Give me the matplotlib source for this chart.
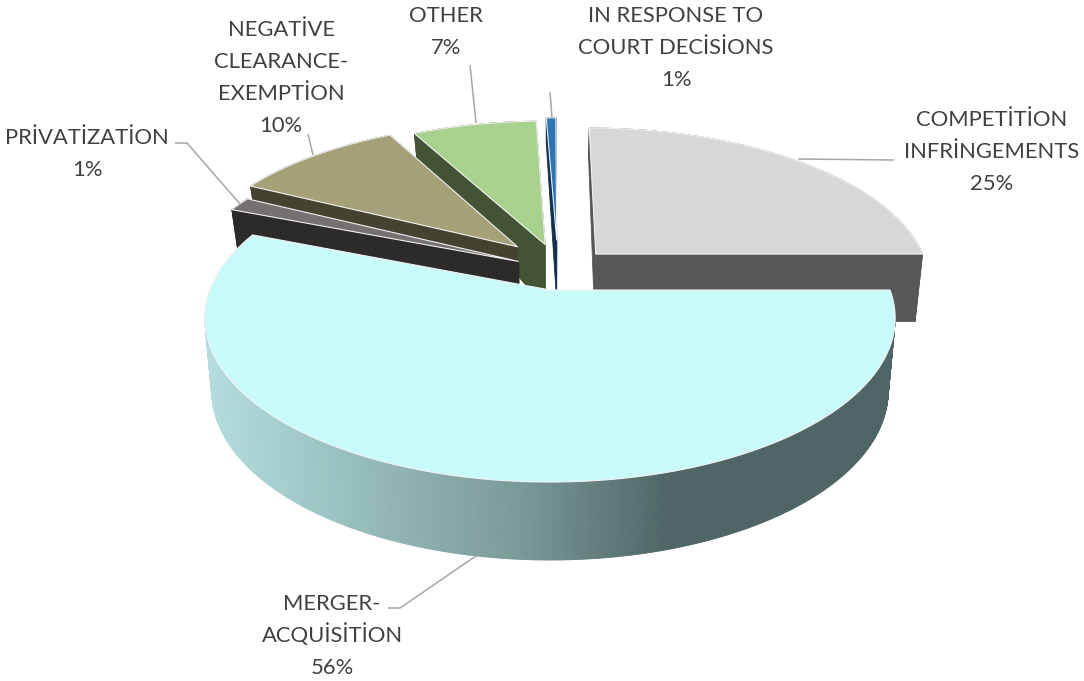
import numpy as np
import matplotlib
matplotlib.use('Agg')
import matplotlib.pyplot as plt
from matplotlib.colors import LinearSegmentedColormap
from matplotlib.patches import Polygon

# chart data (shares, small ones estimated)
categories = [['COMPETİTİON', 'INFRİNGEMENTS'], ['MERGER-', 'ACQUİSİTİON'], ['PRİVATİZATİON'],
              ['NEGATİVE', 'CLEARANCE-', 'EXEMPTİON'], ['OTHER'], ['IN RESPONSE TO', 'COURT DECİSİONS']]
shares = [25.0, 56.0, 1.45, 9.85, 7.15, 0.55]
percent_labels = ['25%', '56%', '1%', '10%', '7%', '1%']

top_colors = ['#D7D7D7', '#C9FAFA', '#767171', '#A5A077', '#A9D18E', '#2E75B6']
side_colors = ['#575757', None, '#2D2A2A', '#454330', '#435336', '#12304F']
# explosion of each slice in pie units
offsets = [(0.14, 0.235), (0, 0), (-0.095, 0.185), (-0.10, 0.285), (-0.015, 0.30), (0.021, 0.33)]
draw_order = [5, 4, 3, 2, 0, 1]

# first baseline of each label
label_pos = [(992, 126), (332, 610), (87, 144), (281, 36), (446, 22), (676, 22)]
LINE_STEP = 32
leaders = [[(798, 159), (894, 160)],
           [(388, 608), (400, 608), (476, 556)],
           [(175, 143), (187, 143), (240, 204)],
           [(308, 134), (313, 155)],
           [(470, 65), (476, 123)],
           [(550, 92), (552, 118)]]

CX, CY, A, B, K = 550, 290, 340, 159, 0.172
side_cmap = LinearSegmentedColormap.from_list(
    'side', [(0, '#B4DCDC'), (0.3, '#98BEBE'), (0.65, '#7C9C9A'), (1, '#4F6565')])


def project(px, py):
    # perspective view of the pie plane
    den = 1 + K * py
    return CX + A * px / den, CY - B * py / den


def depth(py):
    return np.interp(py, [-1, 0.2, 0.6, 1.3], [78, 70, 40, 26])


def lower(px, py):
    x, y = project(px, py)
    return CX + (x - CX) * 0.98, y + depth(py)


def quad(ax, p0, p1, p2, p3, color):
    ax.add_patch(Polygon([p0, p1, p2, p3], closed=True, fc=color, ec=color, lw=0.6))


fig = plt.figure(figsize=(10.84, 6.81), dpi=100)
ax = fig.add_axes([0, 0, 1, 1])
ax.set_xlim(0, 1084)
ax.set_ylim(681, 0)
ax.axis('off')

edges = np.cumsum([0] + shares) / sum(shares) * 2 * np.pi

for i in draw_order:
    dx, dy = offsets[i]
    n = max(int((edges[i + 1] - edges[i]) * 160), 4)
    t = np.linspace(edges[i], edges[i + 1], n)
    rx, ry = dx + np.sin(t), dy + np.cos(t)
    x, y = project(rx, ry)
    xb, yb = lower(rx, ry)
    apex = project(dx, dy)
    apex_b = lower(dx, dy)
    side = side_colors[i]

    # radial walls, then the outer wall
    if side is not None:
        quad(ax, apex, (x[0], y[0]), (xb[0], yb[0]), apex_b, side)
        quad(ax, apex, (x[-1], y[-1]), (xb[-1], yb[-1]), apex_b, side)
    for j in range(n - 1):
        col = side
        if col is None:
            col = side_cmap(np.clip((x[j] - 210) / 462, 0, 1))
        quad(ax, (x[j], y[j]), (x[j + 1], y[j + 1]), (xb[j + 1], yb[j + 1]), (xb[j], yb[j]), col)

    pts = [apex] + list(zip(x, y))
    ax.add_patch(Polygon(pts, closed=True, fc=top_colors[i], ec='#F2F2F2', lw=0.8))

for pts in leaders:
    xs, ys = zip(*pts)
    ax.plot(xs, ys, color='#A6A6A6', lw=1.1, solid_capstyle='butt')

for name, pct, (lx, ly) in zip(categories, percent_labels, label_pos):
    for k, line in enumerate(name + [pct]):
        ax.text(lx, ly + k * LINE_STEP, line, ha='center', va='baseline', fontsize=15.8,
                family='Lato', color='#404040')

fig.savefig('out.png', dpi=100, facecolor='white')
